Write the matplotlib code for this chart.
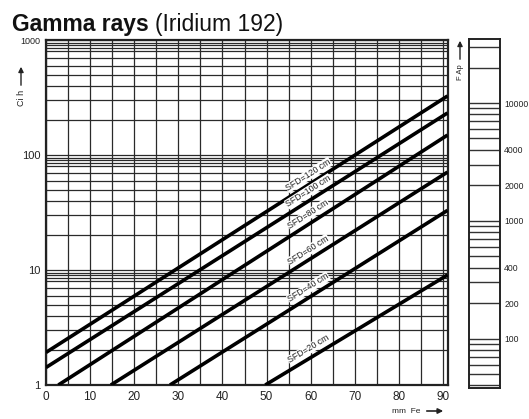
import numpy as np
import matplotlib
matplotlib.use("Agg")
from matplotlib import pyplot as plt

plt.rcParams['font.family'] = ['Liberation Sans', 'DejaVu Sans']

# exposure lines (Iridium 192): start and end points
sfd_labels = ["SFD=120 cm", "SFD=100 cm", "SFD=80 cm", "SFD=60 cm", "SFD=40 cm", "SFD=20 cm"]
start_mm = [0, 0, 2.8, 14.7, 28.1, 49.7]
start_val = [1.92, 1.42, 1.0, 1.0, 1.0, 1.0]
end_mm = [91, 91, 91, 91, 91, 91]
end_val = [326, 232, 149, 71, 33, 9.05]

x_ticks = [0, 10, 20, 30, 40, 50, 60, 70, 80, 90]
y_ticks = [1, 10, 100, 1000]
y_ticklabels = ["1", "10", "100", "1000"]
grid_factors = [2, 3, 4, 5, 6, 7, 8, 8.5, 9, 9.5]

# film factor bar on the right
bar_lines = [30000, 20000] + list(range(10000, 1999, -1000)) + list(range(1000, 199, -100)) + list(range(100, 39, -10))
bar_ticks = [10000, 4000, 2000, 1000, 400, 200, 100]

W, H = 529, 419
fig = plt.figure(figsize=(W / 100, H / 100), dpi=100)

def box(l, t, r, b):
    return [l / W, (H - b) / H, (r - l) / W, (b - t) / H]

ax = fig.add_axes(box(46, 40, 447.5, 385))
ax.set_yscale('log')
ax.set_xlim(0, 91)
ax.set_ylim(1, 1000)

# grid
for x in np.arange(0, 91, 5):
    ax.axvline(x, color='#2a2a2a', lw=0.9, zorder=1)
for d in [1, 10, 100]:
    for f in grid_factors:
        ax.axhline(d * f, color='#2a2a2a', lw=0.9, zorder=1)
for d in y_ticks:
    ax.axhline(d, color='#2a2a2a', lw=0.9, zorder=1)

for xs, ys, xe, ye in zip(start_mm, start_val, end_mm, end_val):
    ax.plot([xs, xe], [ys, ye], color='black', lw=2.6, solid_capstyle='butt', zorder=3)

ax.set_xticks(x_ticks)
ax.set_xticklabels([str(v) for v in x_ticks], fontsize=8.5, color='#222')
ax.set_yticks(y_ticks)
ax.set_yticklabels(y_ticklabels, fontsize=8, color='#222')
ax.yaxis.set_minor_locator(matplotlib.ticker.NullLocator())
ax.tick_params(length=0, pad=4)
ax.get_yticklabels()[-1].set_fontsize(6.5)
for s in ax.spines.values():
    s.set_linewidth(1.6)
    s.set_color('#222')

# line labels, rotated along the lines
fig.canvas.draw()
for lab, xs, ys, xe, ye in zip(sfd_labels, start_mm, start_val, end_mm, end_val):
    p0 = ax.transData.transform((xs, ys))
    p1 = ax.transData.transform((xe, ye))
    ang = np.degrees(np.arctan2(p1[1] - p0[1], p1[0] - p0[0]))
    xl = 60.5
    yl = 10 ** (np.log10(ys) + (np.log10(ye) - np.log10(ys)) * (xl - xs) / (xe - xs))
    th = np.radians(ang)
    off = 6.0
    ax.annotate(lab, (xl, yl), xytext=(-off * np.sin(th), off * np.cos(th)),
                textcoords='offset points', ha='center', va='center',
                rotation=ang, fontsize=6.3, color='#222', zorder=4,
                bbox=dict(boxstyle='square,pad=0.05', fc='white', ec='none'))

# title
fig.text(12 / W, 1 - 31 / H, "Gamma rays", fontsize=16.5, fontweight='bold', color='#111')
fig.text(155 / W, 1 - 31 / H, "(Iridium 192)", fontsize=16.5, color='#111')

# y axis label with arrow
fig.text(21 / W, 1 - 98 / H, "Ci h", rotation=90, ha='center', va='center', fontsize=6.5, color='#222')
fig.add_artist(matplotlib.patches.FancyArrowPatch((21 / W, 1 - 88 / H), (21 / W, 1 - 64 / H),
               transform=fig.transFigure, arrowstyle='-|>,head_length=3,head_width=1.5',
               color='#222', lw=1.0))

# x axis label with arrow
fig.text(420 / W, 1 - 411 / H, "mm  Fe", ha='right', va='center', fontsize=6, color='#222')
fig.add_artist(matplotlib.patches.FancyArrowPatch((424 / W, 1 - 411 / H), (446 / W, 1 - 411 / H),
               transform=fig.transFigure, arrowstyle='-|>,head_length=3,head_width=1.5',
               color='#222', lw=1.2))

# right bar
bx = fig.add_axes(box(469, 39, 500, 388))
bx.set_yscale('log')
bx.set_ylim(38, 35000)
bx.set_xlim(0, 1)
for v in bar_lines:
    bx.axhline(v, color='#333', lw=1.0)
bx.set_xticks([])
bx.yaxis.tick_right()
bx.set_yticks(bar_ticks)
bx.set_yticklabels([str(v) for v in bar_ticks], fontsize=6.2, color='#222')
bx.yaxis.set_minor_locator(matplotlib.ticker.NullLocator())
bx.tick_params(length=0, pad=3)
for s in bx.spines.values():
    s.set_linewidth(1.4)
    s.set_color('#222')

fig.text(460 / W, 1 - 72 / H, "F Ap", rotation=90, ha='center', va='center', fontsize=5.5, color='#222')
fig.add_artist(matplotlib.patches.FancyArrowPatch((460 / W, 1 - 62 / H), (460 / W, 1 - 38 / H),
               transform=fig.transFigure, arrowstyle='-|>,head_length=3,head_width=1.5',
               color='#222', lw=1.0))

fig.savefig("out.png", dpi=100)
